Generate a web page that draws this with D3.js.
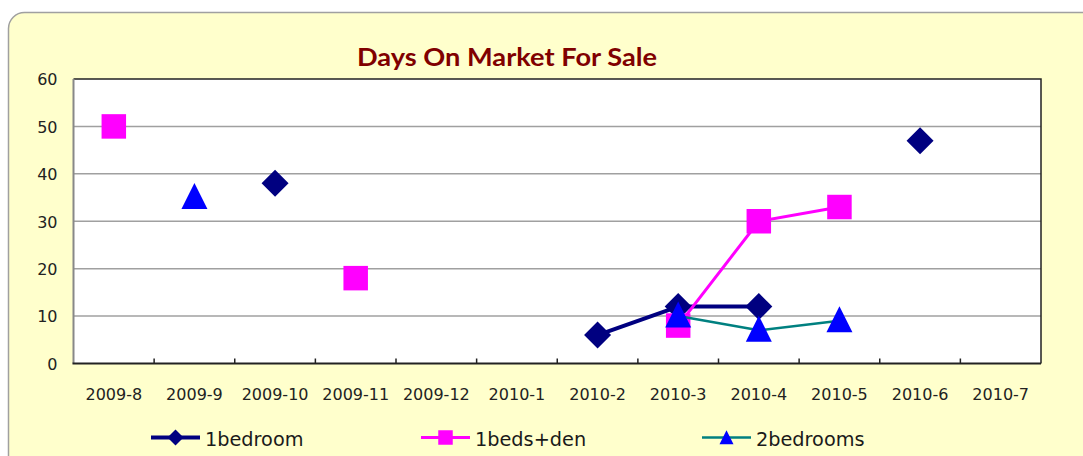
<!DOCTYPE html>
<html><head><meta charset="utf-8">
<script src="https://cdn.jsdelivr.net/npm/d3@7"></script>
<style>html,body{margin:0;padding:0;background:#fff;}svg{display:block;}</style>
</head><body>
<svg id="chart" width="1083" height="456"></svg>
<script>
const categories = ["2009-8","2009-9","2009-10","2009-11","2009-12","2010-1","2010-2","2010-3","2010-4","2010-5","2010-6","2010-7"];
const oneBedroom = [null,null,38,null,null,null,6,12,12,null,47,null];
const oneBedsDen = [50,null,null,18,null,null,null,8,30,33,null,null];
const twoBedrooms = [null,35,null,null,null,null,null,10,7,9,null,null];
const yTicks = [0,10,20,30,40,50,60];
const seriesNames = ["1bedroom","1beds+den","2bedrooms"];

const series = [
  {name: seriesNames[0], values: oneBedroom, line: "#000080", fill: "#000080", width: 4, shape: "diamond"},
  {name: seriesNames[1], values: oneBedsDen, line: "#FF00FF", fill: "#FF00FF", width: 3, shape: "square"},
  {name: seriesNames[2], values: twoBedrooms, line: "#008080", fill: "#0000FF", width: 2.5, shape: "triangle"}
];

const svg = d3.select("#chart");
const W = 1083, H = 456;
const plot = {left: 73.5, right: 1041, top: 79, bottom: 363.5};

// outer background
svg.append("rect").attr("x", 8.5).attr("y", 12.5).attr("width", 1100).attr("height", 470)
  .attr("rx", 16).attr("fill", "#FFFFCC").attr("stroke", "#A0A0A0").attr("stroke-width", 1.5);

const x = d3.scaleBand().domain(categories).range([plot.left, plot.right]).padding(0);
const y = d3.scaleLinear().domain([0, 60]).range([plot.bottom, plot.top]);

// plot area
svg.append("rect").attr("x", plot.left).attr("y", plot.top)
  .attr("width", plot.right - plot.left).attr("height", plot.bottom - plot.top)
  .attr("fill", "#FFFFFF");

// gridlines
svg.append("g").selectAll("line").data(yTicks.filter(t => t > 0 && t < 60)).join("line")
  .attr("x1", plot.left).attr("x2", plot.right)
  .attr("y1", d => y(d)).attr("y2", d => y(d))
  .attr("stroke", "#A0A0A0").attr("stroke-width", 1.5);

// border top/right
svg.append("path")
  .attr("d", `M${plot.left},${plot.top}H${plot.right}V${plot.bottom}`)
  .attr("fill", "none").attr("stroke", "#222").attr("stroke-width", 1.5);
// left axis (gray)
svg.append("line").attr("x1", plot.left).attr("x2", plot.left).attr("y1", plot.top).attr("y2", plot.bottom)
  .attr("stroke", "#888").attr("stroke-width", 2);

// x axis
const xAxis = d3.axisBottom(x).tickSize(0).tickPadding(0);
const gx = svg.append("g").attr("transform", `translate(0,${plot.bottom})`).call(xAxis);
gx.select(".domain").remove();
gx.selectAll("text").attr("y", 36.5).attr("dy", null)
  .attr("font-family", "DejaVu Sans").attr("font-size", 16).attr("fill", "#222");
// ticks at category boundaries pointing up
const boundaries = categories.slice(1).map(c => x(c));
svg.append("g").selectAll("line").data(boundaries).join("line")
  .attr("x1", d => d).attr("x2", d => d).attr("y1", plot.bottom).attr("y2", plot.bottom - 5)
  .attr("stroke", "#222").attr("stroke-width", 1.5);
svg.append("line").attr("x1", plot.left - 1).attr("x2", plot.right).attr("y1", plot.bottom).attr("y2", plot.bottom)
  .attr("stroke", "#222").attr("stroke-width", 2);

// y axis labels
const yAxis = d3.axisLeft(y).tickValues(yTicks).tickSize(0).tickPadding(0);
const gy = svg.append("g").attr("transform", `translate(${plot.left - 16},0)`).call(yAxis);
gy.select(".domain").remove();
gy.selectAll("text").attr("font-family", "DejaVu Sans").attr("font-size", 16).attr("fill", "#222")
  .attr("dy", "0.36em");

// title
svg.append("text").attr("x", 507).attr("y", 66).attr("text-anchor", "middle")
  .attr("font-family", "Lato, 'Open Sans', sans-serif").attr("font-weight", "bold").attr("font-size", 25)
  .attr("fill", "#800000").attr("textLength", 300).attr("lengthAdjust", "spacingAndGlyphs")
  .text("Days On Market For Sale");

function markerPath(shape, s) {
  const h = s / 2;
  if (shape === "diamond") return `M0,${-h}L${h},0L0,${h}L${-h},0Z`;
  if (shape === "square") return `M${-h},${-h}H${h}V${h}H${-h}Z`;
  return `M0,${-h * 1.05}L${h},${h * 0.95}L${-h},${h * 0.95}Z`;
}
const markerSize = {diamond: 27, square: 24.5, triangle: 26};
const cx = c => x(c) + x.bandwidth() / 2;

series.forEach(s => {
  const pts = categories.map((c, i) => ({c, v: s.values[i]}));
  const line = d3.line().defined(d => d.v !== null).x(d => cx(d.c)).y(d => y(d.v));
  svg.append("path").datum(pts).attr("d", line)
    .attr("fill", "none").attr("stroke", s.line).attr("stroke-width", s.width).attr("stroke-linejoin", "round");
  svg.append("g").selectAll("path").data(pts.filter(d => d.v !== null)).join("path")
    .attr("transform", d => `translate(${cx(d.c)},${y(d.v) + (s.shape === "triangle" ? -1 : 0)})`)
    .attr("d", markerPath(s.shape, markerSize[s.shape]))
    .attr("fill", s.fill);
});

// legend
const legendX = [151, 421, 702];
const legendY = 437.5;
const legendMarker = {diamond: 16, square: 14.5, triangle: 14};
const lg = svg.append("g");
series.forEach((s, i) => {
  const g = lg.append("g").attr("transform", `translate(${legendX[i]},${legendY})`);
  g.append("line").attr("x1", 0).attr("x2", 49).attr("y1", 0).attr("y2", 0)
    .attr("stroke", s.line).attr("stroke-width", s.width);
  g.append("path").attr("transform", `translate(24.5,0)`)
    .attr("d", markerPath(s.shape, legendMarker[s.shape])).attr("fill", s.fill);
  g.append("text").attr("x", 54).attr("y", 8.5)
    .attr("font-family", "DejaVu Sans").attr("font-size", 19.3).attr("fill", "#1a1a1a")
    .text(s.name);
});
</script>
</body></html>
